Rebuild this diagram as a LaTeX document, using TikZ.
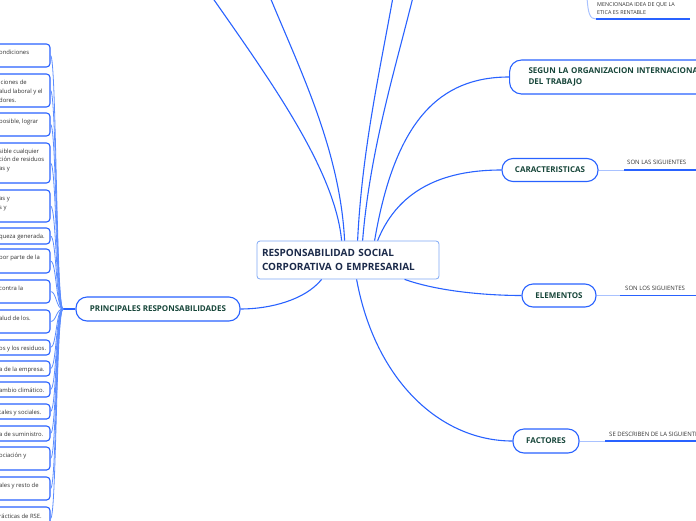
\documentclass[tikz,border=0pt]{standalone}
\usepackage{fontspec}
\setmainfont{Open Sans}
\definecolor{mblue}{HTML}{2962FF}
\definecolor{sblue}{HTML}{5C8DFF}
\definecolor{pblue}{HTML}{A9C2FF}
\definecolor{cborder}{HTML}{7FA8F5}
\definecolor{dgreen}{HTML}{17463A}
\definecolor{navy}{HTML}{1B2A4A}
\definecolor{tgrey}{HTML}{333333}
\tikzset{
  mainline/.style={draw=mblue, line width=1.1pt},
  subline/.style={draw=sblue, line width=0.8pt},
  paleline/.style={draw=pblue, line width=1pt},
  ulline/.style={draw=mblue, line width=1.5pt},
  lbox/.style={draw=mblue, line width=1.1pt, rounded corners=3.5pt, fill=white, minimum width=80pt, inner sep=0pt},
  ltext/.style={font=\fontsize{5.9}{8}\selectfont, text=tgrey, inner sep=0pt, anchor=mid west},
  rlabel/.style={font=\fontsize{6}{7}\selectfont, text=tgrey, inner sep=0pt, anchor=base west},
  pill/.style={draw=mblue, line width=1.1pt, rounded corners=11pt, fill=white, inner sep=0pt, font=\fontsize{8}{11.5}\selectfont\bfseries, text=dgreen},
  rootbox/.style={draw=cborder, line width=0.8pt, rounded corners=3pt, fill=white, inner xsep=5pt, inner ysep=0pt, font=\fontsize{10}{13.5}\selectfont\bfseries, text=navy}
}
\begin{document}
\begin{tikzpicture}[x=1pt,y=-1pt]
\useasboundingbox (0,0) rectangle (696,520);
\clip (0,0) rectangle (696,520);

% central node
\node[rootbox, minimum width=182pt, minimum height=38pt, text width=172pt, align=left] (root) at (348,260) {RESPONSABILIDAD SOCIAL\\CORPORATIVA O EMPRESARIAL};

% start points on the central node
\coordinate (r1) at ([xshift=85pt]root.north west);
\coordinate (r2) at ([xshift=88pt]root.north west);
\coordinate (r3) at ([xshift=101pt]root.north west);
\coordinate (r4) at ([xshift=106pt]root.north west);
\coordinate (r5) at ([xshift=118pt]root.north west);
\coordinate (r6) at ([xshift=121pt]root.north west);
\coordinate (r7) at ([xshift=148pt]root.south west);
\coordinate (r8) at ([xshift=100pt]root.south west);
\coordinate (r9) at ([xshift=65pt]root.south west);

% off-picture ends
\coordinate (o1) at (212,-3);
\coordinate (o2) at (270,-3);
\coordinate (o3) at (393,-3);
\coordinate (o4) at (413,-3);

% branch nodes
\node[pill, rounded corners=12pt, anchor=west, minimum height=34pt, inner xsep=19pt, text width=240pt, align=left] (segun) at (509,77) {SEGUN LA ORGANIZACION INTERNACIONAL\\DEL TRABAJO};
\node[pill, minimum width=96pt, minimum height=23pt] (car) at (550,170) {CARACTERISTICAS};
\node[pill, minimum width=74pt, minimum height=23pt] (ele) at (559,295.5) {ELEMENTOS};
\node[pill, minimum width=66pt, minimum height=24pt] (fac) at (546,441) {FACTORES};
\node[pill, minimum width=164pt, minimum height=24pt] (pri) at (158,309) {PRINCIPALES RESPONSABILIDADES};

% main connectors
\draw[mainline] (r1) .. controls (335,170) and (270,80) .. (o1);
\draw[mainline] (r2) .. controls (340,150) and (300,70) .. (o2);
\draw[mainline] (r3) .. controls (362,150) and (380,70) .. (o3);
\draw[mainline] (r4) .. controls (370,150) and (395,70) .. (o4);
\draw[mainline] (r5) .. controls (395,120) and (440,77) .. (segun.west);
\draw[mainline] (r6) .. controls (400,185) and (450,170) .. (car.west);
\draw[mainline] (r7) .. controls (440,292) and (490,295.5) .. (ele.west);
\draw[mainline] (r8) .. controls (375,380) and (440,441) .. (fac.west);
\draw[mainline] (r9) .. controls (305,300) and (270,309) .. (pri.east);

% right sub-branches
\coordinate (u1a) at (624,170); \coordinate (u1b) at (700,170);
\draw[paleline] (car.east) -- (u1a); \draw[ulline] (u1a) -- (u1b);
\node[rlabel] (l1) at (627,164.5) {SON LAS SIGUIENTES};

\coordinate (u2a) at (620,295.5); \coordinate (u2b) at (700,295.5);
\draw[paleline] (ele.east) -- (u2a); \draw[ulline] (u2a) -- (u2b);
\node[rlabel] (l2) at (625,290) {SON LOS SIGUIENTES};

\coordinate (u3a) at (605,441); \coordinate (u3b) at (700,441);
\draw[paleline] (fac.east) -- (u3a); \draw[ulline] (u3a) -- (u3b);
\node[rlabel] (l3) at (609,436) {SE DESCRIBEN DE LA SIGUIENTE FORMA};

% top right sub-topic
\coordinate (tr0) at (587,-3); \coordinate (tr1) at (596,19); \coordinate (tr2) at (690,19);
\draw[paleline] (tr0) .. controls (588,14) and (590,19) .. (tr1);
\draw[ulline] (tr1) -- (tr2);
\node[rlabel, font=\fontsize{5.4}{7}\selectfont] (m1) at (597,6) {MENCIONADA IDEA DE QUE LA};
\node[rlabel, font=\fontsize{5.4}{7}\selectfont] (m2) at (597,14) {ETICA ES RENTABLE};

% left junction
\coordinate (jn) at (63,309);
\draw[mainline] (pri.west) -- (jn);

\foreach \i/\t/\b in {1/44/67, 2/74/107, 3/113/136, 4/143/183, 5/190/222, 6/228/244, 7/249/273, 8/280/303, 9/310/333, 10/340/355, 11/361/376, 12/382/397, 13/404/419, 14/426/441, 15/447/470, 16/477/500, 17/507/530}{
  \node[lbox, minimum height={\b-\t}] (b\i) at (10,{(\t+\b)/2}) {};
  \draw[subline] (jn) .. controls +(-7,0) and +(6,0) .. (b\i.east);
}

% left texts (visible parts)
\node[ltext] (t1) at (-1,52) {ondiciones};
\node[ltext] (t2a) at (-1,82) {iciones de};
\node[ltext] (t2b) at (-1,91) {alud laboral y el};
\node[ltext] (t2c) at (-1,99.5) {dores.};
\node[ltext] (t3) at (-1,121) {posible, lograr};
\node[ltext] (t4a) at (-1,150.5) {sible cualquier};
\node[ltext] (t4b) at (-1,159) {ción de residuos};
\node[ltext] (t4c) at (-1,167.5) {as y};
\node[ltext] (t5a) at (-1,198) {as y};
\node[ltext] (t5b) at (-1,207) {s y};
\node[ltext] (t6) at (-1,236) {queza generada.};
\node[ltext] (t7) at (-1,257) {por parte de la};
\node[ltext] (t8) at (-1,288) {contra la};
\node[ltext] (t9) at (-1,318) {alud de los.};
\node[ltext] (t10) at (-1,348) {os y los residuos.};
\node[ltext] (t11) at (-1,368.5) {a de la empresa.};
\node[ltext] (t12) at (-1,390) {ambio climático.};
\node[ltext] (t13) at (-1,411.5) {tales y sociales.};
\node[ltext] (t14) at (-1,433.5) {a de suministro.};
\node[ltext] (t15) at (-1,455) {ociación y};
\node[ltext] (t16) at (-1,485) {ales y resto de};
\node[ltext] (t17) at (-1,515.5) {rácticas de RSE.};
\end{tikzpicture}
\end{document}
